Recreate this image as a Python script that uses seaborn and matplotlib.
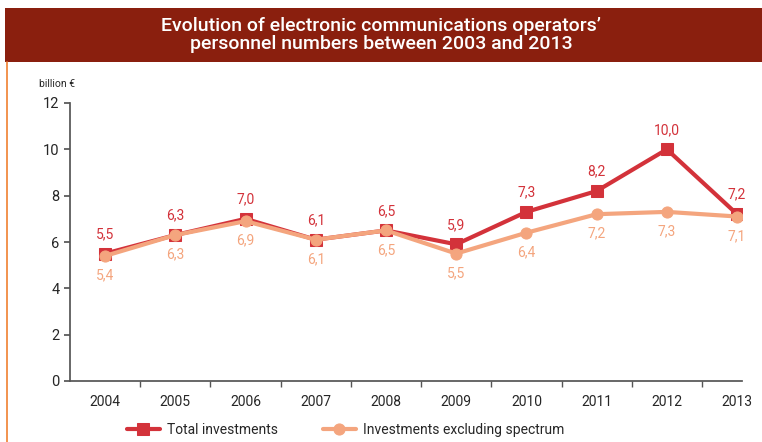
import pandas as pd
import numpy as np
import matplotlib
matplotlib.use('Agg')
import matplotlib.pyplot as plt
from matplotlib.patches import Rectangle
from matplotlib.lines import Line2D
import seaborn as sns

years = ['2004', '2005', '2006', '2007', '2008', '2009', '2010', '2011', '2012', '2013']
total = [5.5, 6.3, 7.0, 6.1, 6.5, 5.9, 7.3, 8.2, 10.0, 7.2]
excl_spectrum = [5.4, 6.3, 6.9, 6.1, 6.5, 5.5, 6.4, 7.2, 7.3, 7.1]
total_labels = ['5,5', '6,3', '7,0', '6,1', '6,5', '5,9', '7,3', '8,2', '10,0', '7,2']
excl_labels = ['5,4', '6,3', '6,9', '6,1', '6,5', '5,5', '6,4', '7,2', '7,3', '7,1']

red = '#d3323a'
salmon = '#f4a57e'
banner = '#8a1f0e'

sns.set_theme(style='ticks')
plt.rcParams['font.family'] = ['Roboto', 'DejaVu Sans']

fig = plt.figure(figsize=(7.62, 4.42), dpi=100)

# title banner
fig.patches.append(Rectangle((5 / 762, 1 - 62 / 442), 757 / 762, 54 / 442,
                             transform=fig.transFigure, facecolor=banner, edgecolor='none'))
fig.lines.append(Line2D([7 / 762, 7 / 762], [0, 1 - 62 / 442], transform=fig.transFigure,
                        color='#f08030', lw=1.2))
fig.text(0.5, 1 - 35 / 442,
         'Evolution of electronic communications operators\u2019\npersonnel numbers between 2003 and 2013',
         ha='center', va='center', color='white', fontsize=14, fontweight='medium', linespacing=1.0)

ax = fig.add_axes([70 / 762, 1 - 381 / 442, 672 / 762, 278 / 442])

x = np.arange(len(years))
df = pd.DataFrame({'x': np.concatenate([x, x]),
                   'value': total + excl_spectrum,
                   'series': ['Total investments'] * len(x) + ['Investments excluding spectrum'] * len(x)})

sns.lineplot(data=df[df['series'] == 'Total investments'], x='x', y='value', color=red,
             lw=3, marker='s', markersize=9, markeredgecolor=red, ax=ax, label='Total investments')
sns.lineplot(data=df[df['series'] == 'Investments excluding spectrum'], x='x', y='value', color=salmon,
             lw=3, marker='o', markersize=8, markeredgecolor=salmon, ax=ax,
             label='Investments excluding spectrum')

for i in range(len(years)):
    ax.annotate(total_labels[i], (x[i], total[i]), xytext=(0, 9), textcoords='offset points',
                ha='center', va='bottom', color=red, fontsize=10)
    ax.annotate(excl_labels[i], (x[i], excl_spectrum[i]), xytext=(0, -9), textcoords='offset points',
                ha='center', va='top', color=salmon, fontsize=10)

ax.set_ylim(0, 12)
ax.set_yticks([0, 2, 4, 6, 8, 10, 12])
ax.set_xlim(-0.5, 9.07)
ax.set_xticks(x)
ax.set_xticklabels(years, fontsize=10)
ax.set_xticks(np.arange(0.5, 9.0, 1), minor=True)
ax.tick_params(axis='x', which='major', length=0, pad=10)
ax.tick_params(axis='x', which='minor', length=4, color='#555555')
ax.tick_params(axis='y', labelsize=10.5, length=4, color='#555555')
ax.set_xlabel('')
ax.set_ylabel('')
sns.despine(ax=ax)
ax.spines['left'].set_color('#555555')
ax.spines['bottom'].set_color('#555555')
ax.text(0.008, 1.068, 'billion \u20ac', transform=ax.transAxes, ha='right', va='center', fontsize=7.5)

ax.legend(loc='upper center', bbox_to_anchor=(0.41, -0.105), ncol=2, frameon=False,
          fontsize=10, handlelength=2.4, handletextpad=0.5, columnspacing=3.2)

fig.savefig('out.png', dpi=100)
